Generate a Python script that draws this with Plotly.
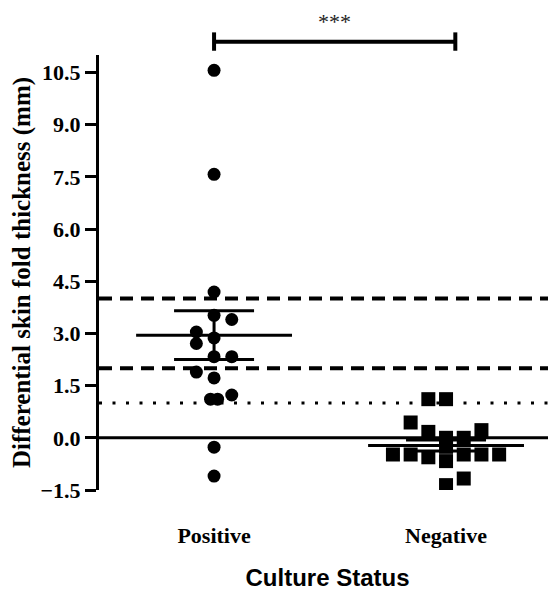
import plotly.graph_objects as go

# ---------------- data ----------------
groups = ["Positive", "Negative"]

positive_values = [10.56, 7.57, 4.19, 3.52, 3.40, 3.04, 2.87, 2.71, 2.33, 2.33,
                   1.89, 1.72, 1.11, 1.11, 1.23, -0.27, -1.10]
positive_column = [0, 0, 0, 0, 1, -1, 0, -1, 0, 1, -1, 0, -0.2, 0.2, 1, 0, 0]

negative_values = [1.11, 1.11, 0.44, 0.17, 0.22, 0.00, 0.00, -0.26, -0.48, -0.48,
                   -0.48, -0.48, -0.48, -0.56, -0.67, -1.17, -1.36]
negative_column = [-1, 0, -2, -1, 2, 0, 1, 0, -3, -2, 1, 2, 3, -1, 0, 1, 0]

group_means = [2.95, -0.22]
group_errors = [0.70, 0.16]

reference_dashed = [4.0, 2.0]
reference_dotted = [1.0]
reference_solid = [0.0]

y_ticks = [-1.5, 0.0, 1.5, 3.0, 4.5, 6.0, 7.5, 9.0, 10.5]
significance = "***"

# ---------------- layout constants ----------------
# the page body has an 8px default margin, so the figure is drawn 8px smaller
PAGE_OFFSET = 8
W, H = 556 - PAGE_OFFSET, 599 - PAGE_OFFSET
ML, MR, MT = 99 - PAGE_OFFSET, 0, 55 - PAGE_OFFSET
PLOT_H = 435
MB = H - MT - PLOT_H
X_RANGE = [-0.496, 1.474]
Y_RANGE = [-1.5, 11.0]
COL_STEP = 0.0763     # jitter column spacing in x units
MEAN_HALF = 0.336     # half width of mean line
CAP_PX = 40

serif = "Liberation Serif, Times New Roman, serif"
sans = "Liberation Sans, Arial, sans-serif"

fig = go.Figure()

pos_x = [0 + c * COL_STEP for c in positive_column]
neg_x = [1 + c * COL_STEP for c in negative_column]

fig.add_trace(go.Scatter(
    x=pos_x, y=positive_values, mode="markers",
    marker=dict(symbol="circle", size=13, color="black"),
    showlegend=False, hoverinfo="y"))
fig.add_trace(go.Scatter(
    x=neg_x, y=negative_values, mode="markers",
    marker=dict(symbol="square", size=14, color="black"),
    showlegend=False, hoverinfo="y"))

# mean lines
for gi, m in enumerate(group_means):
    fig.add_trace(go.Scatter(
        x=[gi - MEAN_HALF, gi + MEAN_HALF], y=[m, m], mode="lines",
        line=dict(color="black", width=3), showlegend=False, hoverinfo="skip"))

# error bars
fig.add_trace(go.Scatter(
    x=[0, 1], y=group_means, mode="markers",
    marker=dict(size=1, color="rgba(0,0,0,0)"),
    error_y=dict(type="data", array=group_errors, visible=True,
                 color="black", thickness=3, width=CAP_PX),
    showlegend=False, hoverinfo="skip"))

# reference lines
shapes = []
for v in reference_solid:
    shapes.append(dict(type="line", xref="paper", yref="y", x0=0, x1=1, y0=v, y1=v,
                       line=dict(color="black", width=3), layer="below"))
for v in reference_dashed:
    shapes.append(dict(type="line", xref="paper", yref="y", x0=0, x1=1, y0=v, y1=v,
                       line=dict(color="black", width=4, dash="13px,8px"), layer="below"))
for v in reference_dotted:
    shapes.append(dict(type="line", xref="paper", yref="y", x0=0, x1=1, y0=v, y1=v,
                       line=dict(color="black", width=3, dash="3px,10.5px"), layer="below"))

# significance bracket
bx0, bx1 = 0.0, 1.04
by, bcap_top, bcap_bot = 1.0306, 1.052, 1.0098
shapes.append(dict(type="line", xref="x", yref="paper", x0=bx0, x1=bx1, y0=by, y1=by,
                   line=dict(color="black", width=4)))
for bx in (bx0, bx1):
    shapes.append(dict(type="line", xref="x", yref="paper", x0=bx, x1=bx,
                       y0=bcap_bot, y1=bcap_top, line=dict(color="black", width=4)))

fig.update_layout(
    width=W, height=H,
    margin=dict(l=ML, r=MR, t=MT, b=MB, pad=0, autoexpand=False),
    plot_bgcolor="white", paper_bgcolor="white",
    shapes=shapes,
    annotations=[dict(x=(bx0 + bx1) / 2, y=1.078, xref="x", yref="paper",
                      text=significance, showarrow=False,
                      font=dict(family=serif, size=22, color="#222"),
                      xanchor="center", yanchor="middle")],
    xaxis=dict(range=X_RANGE, showgrid=False, zeroline=False, showline=False,
               automargin=False,
               tickvals=[0, 1], ticktext=groups, ticks="",
               ticklabelstandoff=30,
               tickfont=dict(family=serif, size=22, color="black", weight="bold"),
               title=dict(text="Culture Status", standoff=22,
                          font=dict(family=sans, size=24, color="black", weight="bold"))),
    yaxis=dict(range=Y_RANGE, showgrid=False, zeroline=False, showline=True,
               automargin=False,
               linecolor="black", linewidth=3, ticks="outside", ticklen=11,
               tickwidth=3, tickcolor="black", tickvals=y_ticks, tickformat=".1f",
               tickfont=dict(family=serif, size=22, color="black", weight="bold"),
               title=dict(text="Differential skin fold thickness (mm)", standoff=7,
                          font=dict(family=serif, size=25, color="black", weight="bold"))),
)

fig.write_html("out.html")
